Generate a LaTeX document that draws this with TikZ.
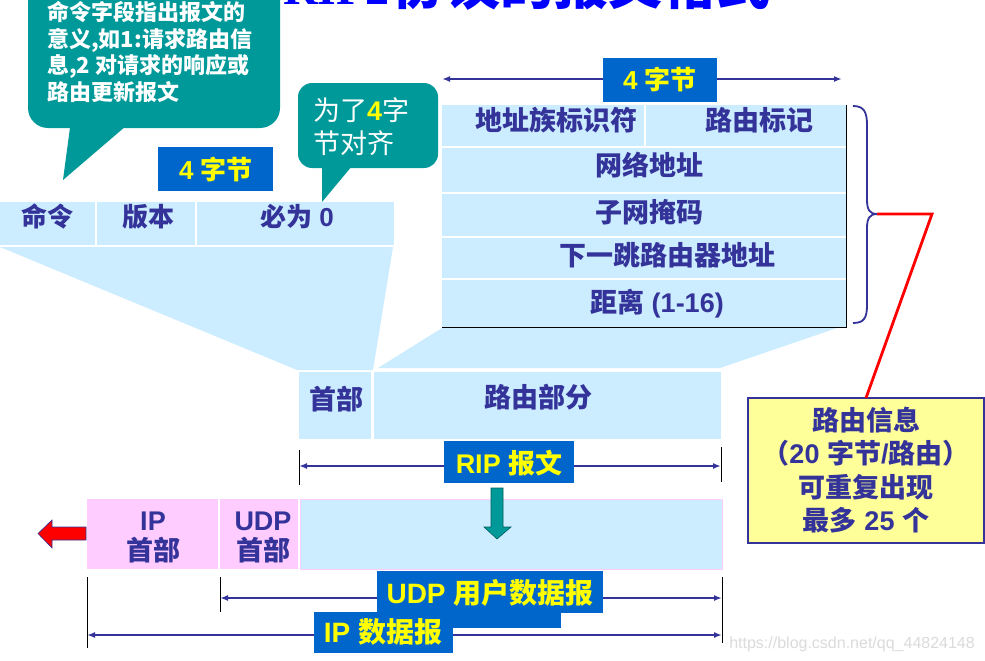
\documentclass[tikz,border=0pt]{standalone}
\usepackage{fontspec}
\setmainfont{Liberation Sans}
\newfontfamily\cjk{Noto Sans CJK SC}
\newfontfamily\serifL{Liberation Serif}
\usetikzlibrary{arrows.meta}
\definecolor{lblue}{HTML}{CCECFF}
\definecolor{pinkc}{HTML}{FFCCFF}
\definecolor{navy}{HTML}{333399}
\definecolor{labblue}{HTML}{0066CC}
\definecolor{tealc}{HTML}{009999}
\definecolor{yel}{HTML}{FFFF00}
\definecolor{pyel}{HTML}{FFFF99}
\newcommand{\C}[1]{{\cjk #1}}
\newcommand{\fsz}[1]{\fontsize{#1}{#1}\selectfont}
\begin{document}
\begin{tikzpicture}[x=1pt,y=-1pt,
  txt/.style={inner sep=0pt, anchor=base, text=navy, font=\bfseries\fsz{27}},
  htxt/.style={txt, font=\bfseries\fsz{26}},
  labtxt/.style={inner sep=0pt, anchor=base, text=yel, font=\bfseries\fsz{27}},
  btxt/.style={inner sep=0pt, anchor=base west, text=white, font=\bfseries\fsz{22}\cjk},
  dimline/.style={navy, line width=2pt, {Latex[length=8pt,width=6pt]}-{Latex[length=8pt,width=6pt]}},
  tickline/.style={black, line width=0.8pt},
  cell/.style={fill=lblue},
  labbox/.style={fill=labblue},
]
\useasboundingbox (0,0) rectangle (985,661);
\fill[white] (0,0) rectangle (985,661);

% title (clipped at top)
\node[anchor=base west, inner sep=0pt, text=blue, font=\bfseries] (title) at (283,5)
  {{\serifL\fsz{48}RIP2} \C{\fsz{54}协议的报文格式}};

% callout 1
\fill[tealc, rounded corners=20pt] (28,-30) rectangle (280,128);
\fill[tealc] (71,120) -- (133,120) -- (63,180) -- cycle;
\node[btxt] (c1a) at (47,21) {命令字段指出报文的};
\node[btxt] (c1b) at (47,48) {意义,如1:请求路由信};
\node[btxt] (c1c) at (47,74) {息,2 对请求的响应或};
\node[btxt] (c1d) at (47,100) {路由更新报文};

% callout 2
\fill[tealc, rounded corners=14pt] (298,83) rectangle (438,168);
\fill[tealc] (322,160) -- (357,160) -- (322,202) -- cycle;
\node[inner sep=0pt, anchor=base west, text=white, font=\fsz{27}] (c2a) at (313,120)
  {\C{为了}\textcolor{yel}{\bfseries 4}\C{字}};
\node[inner sep=0pt, anchor=base west, text=white, font=\fsz{27}\cjk] (c2b) at (313,153) {节对齐};

% left 4 bytes label
\fill[labbox] (158,147) rectangle (273,191);
\node[labtxt, font=\bfseries\fsz{26}] (b4l) at (216,179.5) {4 \C{字节}};

% header row
\fill[cell] (0,202) rectangle (95,245);
\fill[cell] (97,202) rectangle (195,245);
\fill[cell] (197,202) rectangle (394,245);
\node[htxt] (hcmd) at (47,226.5) {\C{命令}};
\node[htxt] (hver) at (148,226.5) {\C{版本}};
\node[htxt] (hzero) at (297,226.5) {\C{必为} 0};

% trapezoids
\fill[lblue] (0,247) -- (393,247) -- (373,370) -- (297,370) -- cycle;
\fill[lblue] (442,328) -- (837,328) -- (720,368) -- (378,368) -- cycle;

% route table
\fill[cell] (442,105) rectangle (644,146);
\fill[cell] (646,105) rectangle (846,146);
\fill[cell] (442,148) rectangle (846,192);
\fill[cell] (442,194) rectangle (846,236);
\fill[cell] (442,238) rectangle (846,278);
\fill[cell] (442,280) rectangle (846,327);
\draw[black, line width=1pt] (442,327.5) -- (846.5,327.5) -- (846.5,105);
\node[txt] (afi) at (556,130) {\C{地址族标识符}};
\node[txt] (rtag) at (759,130) {\C{路由标记}};
\node[txt] (naddr) at (649,175) {\C{网络地址}};
\node[txt] (mask) at (649,222) {\C{子网掩码}};
\node[txt] (nhop) at (667,265) {\C{下一跳路由器地址}};
\node[txt] (dist) at (657,312) {\C{距离} (1-16)};

% top 4 bytes dimension
\coordinate (tL) at (442,79);
\coordinate (tR) at (842,79);
\draw[dimline] (tL) -- (tR);
\fill[labbox] (603,58) rectangle (717,102);
\node[labtxt, font=\bfseries\fsz{26}] (b4t) at (660,89.5) {4 \C{字节}};

% brace and red connector
\draw[navy, line width=1.8pt] (853,106) .. controls (864,106) and (867,112) .. (867,125)
  -- (867,200) .. controls (867,210) and (870,214) .. (877,214)
  .. controls (870,214) and (867,218) .. (867,228)
  -- (867,305) .. controls (867,318) and (864,323) .. (853,323);
\coordinate (braceTip) at (877,214);
\coordinate (bend) at (932,214);

% yellow info box
\filldraw[fill=pyel, draw=navy, line width=1.2pt] (748,398) rectangle (984,543);
\coordinate (infoTop) at (866,398);
\draw[red, line width=2.8pt, line join=miter] (braceTip) -- (bend) -- (infoTop);
\node[txt] (i1) at (866,430) {\C{路由信息}};
\node[txt] (i2) at (866,463) {\C{（}20 \C{字节}/\C{路由）}};
\node[txt] (i3) at (866,497) {\C{可重复出现}};
\node[txt] (i4) at (866,530) {\C{最多} 25 \C{个}};

% RIP message
\fill[cell] (299,372) rectangle (371,439);
\fill[cell] (374,372) rectangle (721,439);
\node[txt] (hdr) at (336,409) {\C{首部}};
\node[txt] (rpart) at (538,407) {\C{路由部分}};

\coordinate (ripL) at (299,466);
\coordinate (ripR) at (721,466);
\draw[tickline] (299,450) -- (299,485);
\draw[tickline] (721,447) -- (721,482);
\draw[dimline] (ripL) -- (ripR);
\fill[labbox] (444,441) rectangle (574,483);
\node[labtxt] (riplab) at (509,473) {RIP \C{报文}};

% UDP/IP bar
\fill[pinkc] (87,499) rectangle (218,569);
\fill[pinkc] (220,499) rectangle (298,569);
\filldraw[fill=lblue, draw=pinkc, line width=0.8pt] (300,499) rectangle (722,569);
\node[txt] (iph1) at (153,530) {IP};
\node[txt] (iph2) at (153,560) {\C{首部}};
\node[txt] (udph1) at (263,530) {UDP};
\node[txt] (udph2) at (263,560) {\C{首部}};

% teal down arrow
\filldraw[fill=tealc, draw=tealc!60!black, line width=0.6pt]
  (491,488) -- (503,488) -- (503,527) -- (511,527) -- (497,539) -- (484,527) -- (491,527) -- cycle;

% red left arrow
\filldraw[fill=red, draw=navy, line width=0.6pt]
  (86,527) -- (52,527) -- (52,520) -- (38,533.5) -- (52,548) -- (52,540) -- (86,540) -- cycle;

% UDP and IP dimensions
\coordinate (udpL) at (220,598);
\coordinate (udpR) at (722,598);
\coordinate (ipL) at (87,635);
\coordinate (ipR) at (722,635);
\draw[tickline] (87,577) -- (87,648);
\draw[tickline] (220,577) -- (220,612);
\draw[tickline] (722,577) -- (722,643);
\draw[dimline] (udpL) -- (udpR);
\draw[dimline] (ipL) -- (ipR);
\fill[labbox] (377,571) rectangle (561,628);
\fill[labbox] (377,571) rectangle (603,613);
\node[labtxt, font=\bfseries\fsz{28}] (udplab) at (490,603) {UDP \C{用户数据报}};
\fill[labbox] (314,612) rectangle (453,653);
\node[labtxt, font=\bfseries\fsz{28}] (iplab) at (383,642) {IP \C{数据报}};

% watermark
\node[inner sep=0pt, anchor=base east, text=black!14, font=\fsz{16}] (wm) at (975,648)
  {https://blog.csdn.net/qq\_44824148};
\end{tikzpicture}
\end{document}
